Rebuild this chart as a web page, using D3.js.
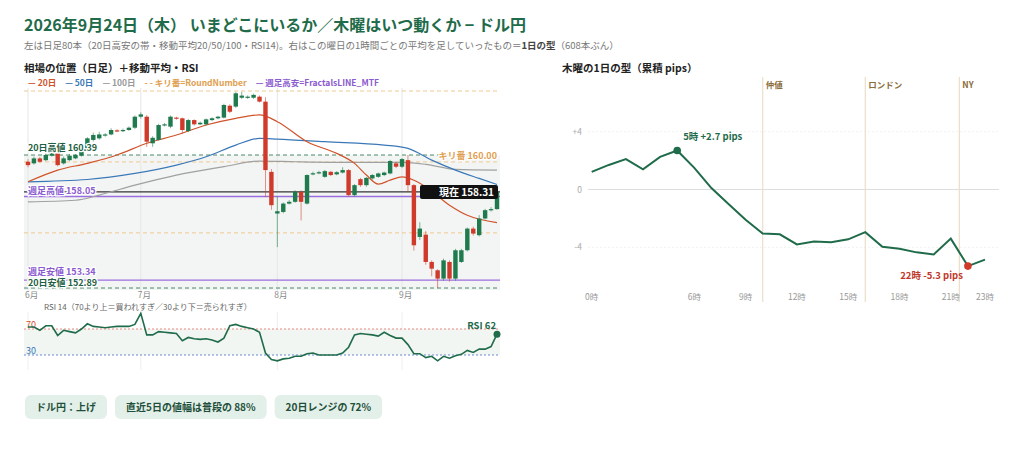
<!DOCTYPE html>
<html><head><meta charset="utf-8">
<script src="https://cdn.jsdelivr.net/npm/d3@7"></script>
<style>body{margin:0;background:#fff;font-family:"Noto Sans CJK JP","Noto Sans",sans-serif}</style>
</head><body><svg id="c" width="1024" height="462"></svg>
<script>
const opens=[160.01,159.92,160.20,160.10,160.35,160.48,159.92,160.10,160.20,160.35,160.67,161.24,161.33,161.50,161.55,161.78,161.74,161.80,161.93,162.55,162.55,161.05,161.24,162.08,161.99,162.50,162.46,161.74,162.36,162.12,162.12,162.36,162.46,162.50,163.17,163.12,163.62,163.62,163.62,163.68,163.40,159.44,157.09,157.18,157.65,157.75,158.31,157.65,159.30,159.36,159.16,159.44,159.30,159.40,159.54,158.13,159.03,158.69,159.07,159.16,159.26,159.35,159.92,159.73,160.10,158.69,155.77,155.90,154.36,153.89,153.42,154.36,153.42,154.36,155.02,156.24,155.87,156.81,157.28,157.34];
const closes=[159.82,160.20,160.01,160.39,160.48,159.82,160.20,160.35,160.39,160.76,161.33,161.52,161.55,161.55,161.80,161.74,161.80,161.93,162.55,162.68,161.14,161.36,162.08,162.12,162.55,162.46,161.80,162.36,162.12,162.21,162.40,162.46,162.55,163.21,162.83,163.87,163.74,163.68,163.78,163.40,159.54,157.56,157.22,157.65,157.75,158.31,157.75,159.26,159.36,159.42,159.48,159.26,159.42,159.54,158.13,158.69,158.69,159.10,159.26,159.35,159.40,160.05,159.73,160.16,158.69,155.30,156.24,154.36,153.98,153.42,154.45,153.42,155.02,155.02,156.24,155.96,156.81,157.28,157.34,158.31];
const highs=[160.15,160.30,160.28,160.48,160.55,160.55,160.30,160.45,160.45,160.85,161.40,161.65,161.70,161.62,161.90,161.85,161.88,162.00,162.62,162.80,162.65,161.45,162.15,162.20,162.62,162.55,162.50,162.42,162.40,162.28,162.45,162.52,162.60,163.28,163.25,163.95,163.95,163.75,163.85,163.75,163.65,159.60,158.05,157.72,157.85,158.40,158.40,159.30,159.45,159.50,159.55,159.50,159.48,159.70,159.60,158.75,159.10,159.15,159.32,159.40,159.45,160.12,160.00,160.22,160.39,158.75,156.60,156.10,154.45,153.95,154.55,154.45,155.10,155.10,156.30,156.35,157.00,157.35,157.45,158.35];
const lows=[159.70,159.85,159.95,160.05,160.30,159.75,159.85,160.05,160.15,160.30,160.60,161.15,161.25,161.42,161.50,161.68,161.68,161.75,161.85,162.45,160.85,160.85,161.20,162.00,161.90,162.38,161.60,161.68,162.05,162.08,162.05,162.30,162.40,162.45,162.75,163.05,163.55,163.55,163.55,163.35,158.03,157.30,155.20,157.10,157.60,157.70,156.70,157.60,159.25,159.30,159.10,159.20,159.25,159.35,158.05,158.05,158.60,158.60,159.00,159.10,159.20,159.30,159.65,159.65,158.30,155.00,155.60,154.20,153.55,152.89,153.30,153.25,153.30,154.30,154.95,155.85,155.80,156.75,157.20,157.30];
const ma20=[[0,158.88],[5,159.54],[10,159.92],[15,160.39],[20,161.05],[25,161.52],[30,162.08],[35,162.46],[39,162.65],[42,162.27],[47,161.14],[52,160.48],[55,159.92],[57,159.26],[59,158.75],[61,158.97],[63,159.16],[65,158.97],[67,158.60],[71,157.56],[74,156.99],[79,156.58]];
const ma50=[[0,158.88],[10,159.01],[18,159.35],[25,159.82],[30,160.29],[35,160.95],[39,161.33],[42,161.29],[50,161.14],[60,160.95],[64,160.76],[68,160.10],[72,159.54],[76,159.07],[79,158.73]];
const ma100=[[0,157.75],[8,157.84],[12,158.13],[18,158.69],[25,159.26],[33,159.73],[39,160.05],[45,160.01],[55,159.97],[63,159.97],[67,159.86],[72,159.58],[79,159.54]];
const rsi=[73,73,68,75,75,60,68,66,64,70,78,74,73,72,73,74,74,74,77,94,61,61,66,65,64,63,52,57,55,54,55,53,50,56,75,77,74,72,70,65,33,23,21,24,25,28,28,32,33,30,30,30,30,33,42,61,63,62,61,59,65,60,56,56,46,32,32,26,28,21,28,25,29,31,37,34,39,39,43,62];
const monthTicks=[[0,"6月"],[19,"7月"],[42,"8月"],[63,"9月"]];
const roundNums=[156,160,164];
const hi20=160.39, lo20=152.89, wkHi=158.05, wkLo=153.34, nowP=158.31;
const pips=[1.22,1.7,2.1,1.4,2.26,2.7,1.5,0.1,-1.0,-2.1,-3.05,-3.1,-3.8,-3.6,-3.65,-3.45,-2.95,-3.97,-4.1,-4.35,-4.5,-3.4,-5.3,-4.85];
const hourTicks=[0,6,9,12,15,18,21,23];
const sessions=[[10,"仲値"],[16,"ロンドン"],[21.5,"NY"]];
const pills=["ドル円：上げ","直近5日の値幅は普段の 88%","20日レンジの 72%"];

const svg=d3.select("#c");
const G="#1f6b4a",R="#d03a2a",GC="#1f7a4d";
svg.append("text").attr("x",24).attr("y",31).attr("font-size",16).attr("font-weight",700).attr("fill",G).text("2026年9月24日（木） いまどこにいるか／木曜はいつ動くか − ドル円");
const st=svg.append("text").attr("x",24).attr("y",49).attr("font-size",9.5).attr("fill","#777");
st.append("tspan").text("左は日足80本（20日高安の帯・移動平均20/50/100・RSI14)。右はこの曜日の1時間ごとの平均を足していったもの＝");
st.append("tspan").attr("font-weight",700).attr("fill","#444").text("1日の型");
st.append("tspan").text("（608本ぶん）");
svg.append("text").attr("x",24).attr("y",72).attr("font-size",10.5).attr("font-weight",700).attr("fill","#222").text("相場の位置（日足）＋移動平均・RSI");
svg.append("text").attr("x",562).attr("y",72).attr("font-size",10.5).attr("font-weight",700).attr("fill","#222").text("木曜の1日の型（累積 pips）");

// legend
const lg=svg.append("g").attr("font-size",8.5).attr("font-weight",700);
let lx=28;
[["#d0532a","— 20日"],["#3b78b8","— 50日"],["#999","— 100日"],["#e0a050","- - キリ番=RoundNumber"],["#8a5ad0","— 週足高安=FractalsLINE_MTF"]].forEach(([c,t])=>{
  const tt=lg.append("text").attr("x",lx).attr("y",86).attr("fill",c).text(t);
  lx+=tt.node().getComputedTextLength()+9;
});

const x=d3.scaleLinear().domain([0,79]).range([28,497]);
const y=d3.scaleLinear().domain([152.75,164.05]).range([290.5,90.1]);
const L=24,Rr=500;
svg.append("rect").attr("x",L).attr("width",Rr-L).attr("y",y(hi20)).attr("height",y(lo20)-y(hi20)+2).attr("fill","#f2f5f3");
monthTicks.forEach(([i,t])=>{
  svg.append("line").attr("x1",x(i)).attr("x2",x(i)).attr("y1",88).attr("y2",291).attr("stroke","#e6e6e6");
  svg.append("line").attr("x1",x(i)).attr("x2",x(i)).attr("y1",312).attr("y2",370).attr("stroke","#eee");
  svg.append("text").attr("x",x(i)-3).attr("y",298).attr("font-size",8.5).attr("fill","#888").text(t);
});
roundNums.forEach(v=>svg.append("line").attr("x1",L).attr("x2",Rr).attr("y1",y(v)).attr("y2",y(v)).attr("stroke","#f0c890").attr("stroke-dasharray","4,3"));
[hi20,lo20].forEach(v=>svg.append("line").attr("x1",L).attr("x2",Rr).attr("y1",y(v)).attr("y2",y(v)).attr("stroke","#4a8a6a").attr("stroke-dasharray","4,3"));
[wkHi,wkLo].forEach(v=>svg.append("line").attr("x1",L).attr("x2",Rr).attr("y1",y(v)).attr("y2",y(v)).attr("stroke","#9b6ee0").attr("stroke-width",1.3));
svg.append("line").attr("x1",L).attr("x2",Rr).attr("y1",y(nowP)).attr("y2",y(nowP)).attr("stroke","#333").attr("stroke-width",1.2);

const ln=d3.line().x(d=>x(d[0])).y(d=>y(d[1])).curve(d3.curveMonotoneX);
[[ma100,"#a0a0a0"],[ma50,"#3b78b8"],[ma20,"#d0532a"]].forEach(([d,c])=>svg.append("path").attr("d",ln(d)).attr("fill","none").attr("stroke",c).attr("stroke-width",1.2));

const cg=svg.append("g");
opens.forEach((o,i)=>{
  const c=closes[i],col=c>=o?GC:R;
  cg.append("line").attr("x1",x(i)).attr("x2",x(i)).attr("y1",y(highs[i])).attr("y2",y(lows[i])).attr("stroke",col).attr("stroke-width",0.8).attr("opacity",0.7);
  cg.append("rect").attr("x",x(i)-2.2).attr("width",4.4).attr("y",y(Math.max(o,c))).attr("height",Math.max(1.2,Math.abs(y(o)-y(c)))).attr("fill",col);
});
const lab=(t,xx,yy,c,anchor)=>svg.append("text").attr("x",xx).attr("y",yy).attr("font-size",9).attr("font-weight",700).attr("fill",c).attr("text-anchor",anchor||"start").attr("stroke","#fff").attr("stroke-width",2.5).attr("paint-order","stroke").text(t);
lab("20日高値 160.39",28,y(hi20)-4,"#1f5f43");
lab("キリ番 160.00",497,y(160)-3,"#e0a050","end");
lab("週足高値 158.05",28,y(wkHi)-3,"#8a5ad0");
lab("週足安値 153.34",28,y(wkLo)-5,"#8a5ad0");
lab("20日安値 152.89",28,y(lo20)-2,"#1f5f43");
svg.append("rect").attr("x",420).attr("y",y(nowP)-7).attr("width",78).attr("height",14).attr("rx",2).attr("fill","#111");
svg.append("text").attr("x",494).attr("y",y(nowP)+4).attr("text-anchor","end").attr("font-size",10).attr("font-weight",700).attr("fill","#fff").text("現在 158.31");

// RSI
const ry=d3.scaleLinear().domain([0,100]).range([374.5,309.5]);
svg.append("rect").attr("x",L).attr("width",Rr-L).attr("y",ry(70)).attr("height",ry(30)-ry(70)).attr("fill","#f1f6f3");
svg.append("line").attr("x1",L).attr("x2",Rr).attr("y1",ry(70)).attr("y2",ry(70)).attr("stroke","#e88a80").attr("stroke-dasharray","2,2");
svg.append("line").attr("x1",L).attr("x2",Rr).attr("y1",ry(30)).attr("y2",ry(30)).attr("stroke","#6a8ad0").attr("stroke-dasharray","2,2");
svg.append("text").attr("x",26).attr("y",ry(70)-1).attr("font-size",9).attr("fill","#d0532a").text("70");
svg.append("text").attr("x",26).attr("y",ry(30)-1).attr("font-size",9).attr("fill","#3b78b8").text("30");
svg.append("text").attr("x",44).attr("y",310).attr("font-size",8).attr("fill","#666").text("RSI 14（70より上＝買われすぎ／30より下＝売られすぎ）");
svg.append("path").attr("d",d3.line().x((d,i)=>x(i)).y(d=>ry(d))(rsi)).attr("fill","none").attr("stroke",G).attr("stroke-width",1.6);
svg.append("circle").attr("cx",x(79)).attr("cy",ry(rsi[79])).attr("r",3.5).attr("fill",G);
svg.append("text").attr("x",496).attr("y",ry(rsi[79])-5).attr("text-anchor","end").attr("font-size",9.5).attr("font-weight",700).attr("fill",G).text("RSI 62");

// pills
let px=25;
pills.forEach(t=>{
  const g=svg.append("g");
  const tx=g.append("text").attr("x",px+11).attr("y",411).attr("font-size",10).attr("font-weight",700).attr("fill","#1f4f3a").text(t);
  const w=tx.node().getComputedTextLength()+22;
  g.insert("rect","text").attr("x",px).attr("y",395).attr("width",w).attr("height",24).attr("rx",6).attr("fill","#e3efe9");
  px+=w+8;
});

// right chart
const hx=d3.scaleLinear().domain([0,23]).range([591.7,985]);
const hy=d3.scaleLinear().domain([-4,4]).range([247.3,131.7]);
[4,-4].forEach(v=>svg.append("line").attr("x1",588).attr("x2",999).attr("y1",hy(v)).attr("y2",hy(v)).attr("stroke","#eef2ef").attr("stroke-dasharray","2,2"));
svg.append("line").attr("x1",588).attr("x2",999).attr("y1",hy(0)).attr("y2",hy(0)).attr("stroke","#ddd");
[[4,"+4"],[0,"0"],[-4,"-4"]].forEach(([v,t])=>svg.append("text").attr("x",582).attr("y",hy(v)+3).attr("text-anchor","end").attr("font-size",8.5).attr("fill","#aaa").text(t));
sessions.forEach(([h,t])=>{
  svg.append("line").attr("x1",hx(h)).attr("x2",hx(h)).attr("y1",77).attr("y2",302).attr("stroke","#eadfc8").attr("stroke-width",1.2);
  svg.append("text").attr("x",hx(h)+3).attr("y",88).attr("font-size",8.5).attr("font-weight",700).attr("fill","#8a6d3b").text(t);
});
hourTicks.forEach(h=>svg.append("text").attr("x",hx(h)).attr("y",300).attr("text-anchor","middle").attr("font-size",8.5).attr("fill","#999").text(h+"時"));
svg.append("path").attr("d",d3.line().x((d,i)=>hx(i)).y(d=>hy(d))(pips)).attr("fill","none").attr("stroke",G).attr("stroke-width",2);
svg.append("circle").attr("cx",hx(5)).attr("cy",hy(pips[5])).attr("r",3.8).attr("fill",G);
svg.append("circle").attr("cx",hx(22)).attr("cy",hy(pips[22])).attr("r",3.8).attr("fill",R);
svg.append("text").attr("x",hx(5)+6).attr("y",hy(pips[5])-10).attr("font-size",9.5).attr("font-weight",700).attr("fill",G).text("5時 +2.7 pips");
svg.append("text").attr("x",hx(22)-5).attr("y",hy(pips[22])+13).attr("text-anchor","end").attr("font-size",9.5).attr("font-weight",700).attr("fill","#c0392b").text("22時 -5.3 pips");
</script></body></html>
